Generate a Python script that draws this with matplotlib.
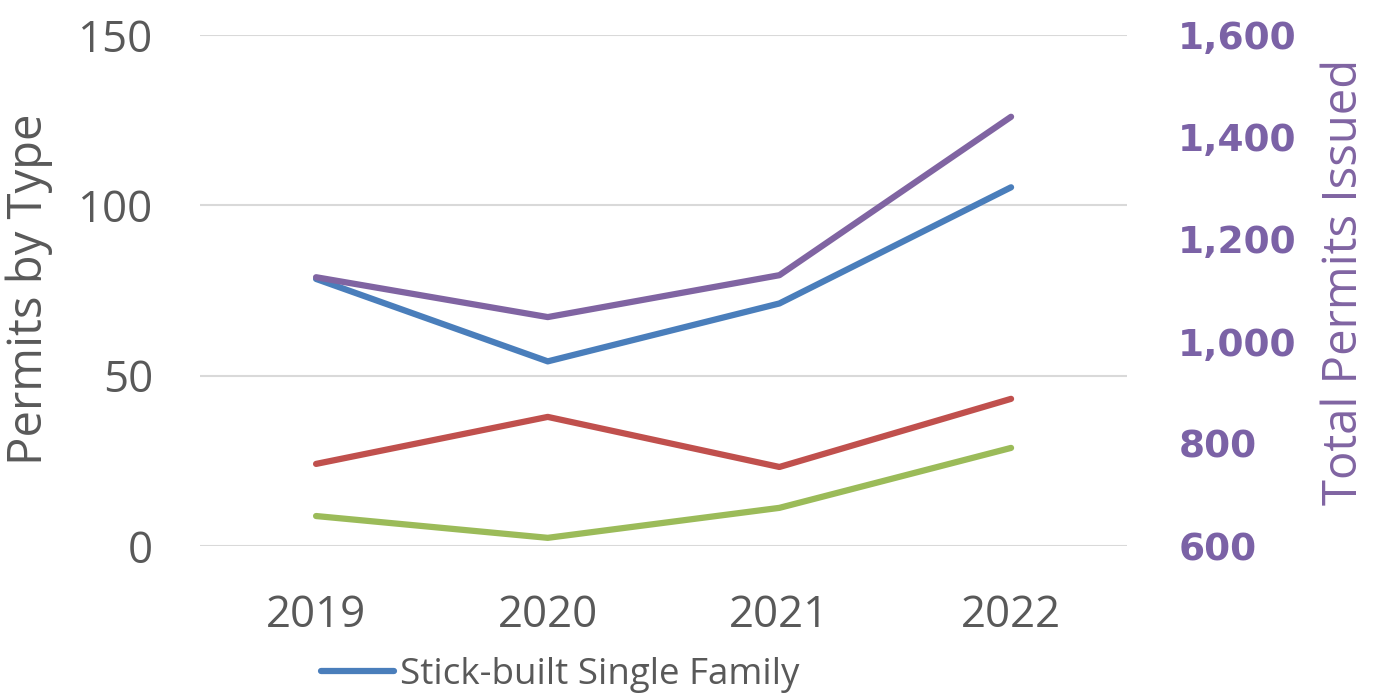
import matplotlib.pyplot as plt
from matplotlib.ticker import FuncFormatter

# values
years = ['2019', '2020', '2021', '2022']
stick_built = [78.4, 54.2, 71.2, 105.3]
red_series = [24.1, 37.9, 23.2, 43.2]
green_series = [8.8, 2.4, 11.2, 28.8]
total_permits = [1126, 1048, 1130, 1440]

left_ticks = [0, 50, 100, 150]
right_ticks = [600, 800, 1000, 1200, 1400, 1600]

GRAY = '#595959'
PURPLE = '#7B62A6'
plt.rcParams['font.family'] = ['Open Sans', 'DejaVu Sans']

fig = plt.figure(figsize=(13.81, 6.96), dpi=100)
ax = fig.add_axes([0.145, 0.2155, 0.671, 0.7342])
x = range(len(years))

lw = 4.5
ax.plot(x, stick_built, color='#4A7EBB', lw=lw, solid_capstyle='round',
        label='Stick-built Single Family', zorder=3)
ax.plot(x, red_series, color='#C0504D', lw=lw, solid_capstyle='round', zorder=3)
ax.plot(x, green_series, color='#9BBB59', lw=lw, solid_capstyle='round', zorder=3)

ax.set_xlim(-0.5, len(years) - 0.5)
ax.set_ylim(0, 150)
ax.set_yticks(left_ticks)
ax.set_xticks(list(x))
ax.set_xticklabels(years)
ax.grid(True, axis='y', color='#D9D9D9', lw=1.5)
ax.set_axisbelow(True)
for s in ax.spines.values():
    s.set_visible(False)
ax.tick_params(axis='both', length=0, labelsize=31.5, colors=GRAY)
ax.tick_params(axis='y', pad=34)
ax.tick_params(axis='x', pad=34)
ax.set_ylabel('Permits by Type', fontsize=34, color=GRAY)
ax.yaxis.set_label_coords(-0.1586, 0.503)

ax2 = ax.twinx()
ax2.plot(x, total_permits, color='#8064A2', lw=lw, solid_capstyle='round', zorder=4)
ax2.set_ylim(600, 1600)
ax2.set_yticks(right_ticks)
ax2.yaxis.set_major_formatter(FuncFormatter(lambda v, p: f'{int(v):,}'))
for s in ax2.spines.values():
    s.set_visible(False)
ax2.tick_params(axis='y', length=0, pad=37, colors=PURPLE)
for lbl in ax2.get_yticklabels():
    lbl.set_fontfamily('DejaVu Sans')
    lbl.set_fontweight('bold')
    lbl.set_fontsize(27)
ax2.set_ylabel('Total Permits Issued', fontsize=34, color='#8064A2')
ax2.yaxis.set_label_coords(1.2086, 0.517)

leg = fig.legend(loc='center left', bbox_to_anchor=(0.2324, 0.030), frameon=False,
                 fontsize=26.5, handlelength=1.98, handletextpad=0.16,
                 borderpad=0, borderaxespad=0, labelcolor=GRAY)

fig.savefig('out.png', dpi=100)
